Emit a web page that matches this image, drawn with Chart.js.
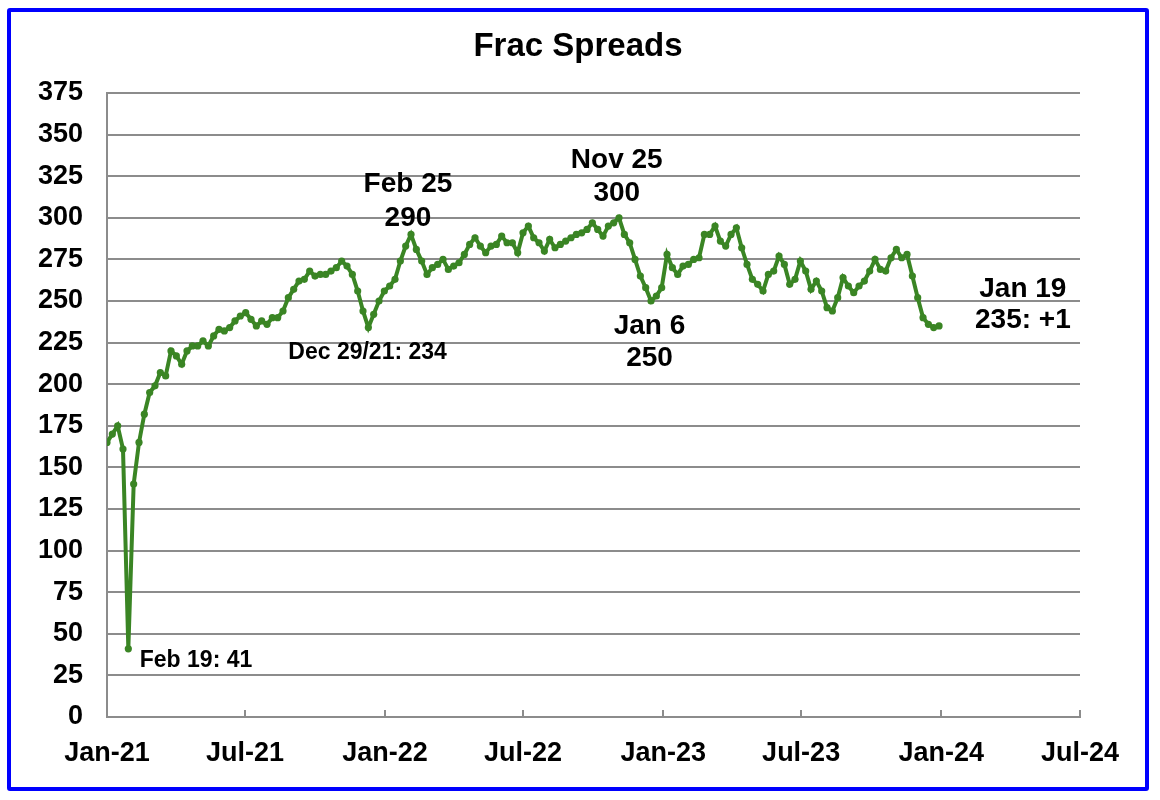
<!DOCTYPE html>
<html>
<head>
<meta charset="utf-8">
<script src="https://cdn.jsdelivr.net/npm/chart.js@4.4.1/dist/chart.umd.min.js"></script>
<style>
  html, body { margin: 0; padding: 0; background: #ffffff; }
  #wrap { position: relative; width: 1160px; height: 800px; }
  #c { position: absolute; left: 0; top: 0; }
  #frame { position: absolute; left: 7px; top: 8px; width: 1134px; height: 775px;
           border: 4px solid #0000ff; border-radius: 3px; pointer-events: none; }
</style>
</head>
<body>
<div id="wrap">
  <canvas id="c" width="1160" height="800"></canvas>
  <div id="frame"></div>
</div>
<script>
// ---- data ----
const chartTitle = "Frac Spreads";
const firstWeekDay = 0;      // day offset (from Jan 1, 2021 on the axis) of first weekly report
const daysPerWeek = 7;
const fracSpreads = [
  165,170,175,161,41,140,165,182,195,199,
  207,205,220,217,212,220,223,223,226,223,
  229,233,232,234,238,241,243,239,235,238,
  236,240,240,244,252,257,262,263,268,265,
  266,266,268,270,274,271,266,256,244,234,
  242,250,256,259,263,274,283,290,281,274,
  266,270,272,275,269,271,273,278,284,288,
  283,279,283,284,289,285,285,279,291,295,
  288,285,280,287,282,284,286,288,290,291,
  293,297,293,289,295,297,300,290,285,275,
  265,258,250,253,258,278,270,266,271,272,
  275,276,290,290,295,286,283,290,294,282,
  272,263,260,256,266,268,277,272,260,263,
  274,268,257,262,256,246,244,252,264,259,
  255,259,262,268,275,269,268,276,281,276,
  278,265,252,240,236,234,235
];
const xTickDays   = [0, 181, 365, 546, 730, 911, 1095, 1277];
const xTickLabels = ["Jan-21","Jul-21","Jan-22","Jul-22","Jan-23","Jul-23","Jan-24","Jul-24"];
const yMin = 0, yMax = 375, yStep = 25;

const annotations = [
  { lines: ["Feb 19: 41"],      x: 43,   y: 34,    size: 23, align: "left" },
  { lines: ["Dec 29/21: 234"],  x: 342,  y: 218.7, size: 23, align: "center" },
  { lines: ["Feb 25", "290"],   x: 395,  y: 320.3, size: 28, align: "center", lineGap: 20.4 },
  { lines: ["Nov 25", "300"],   x: 669,  y: 334.7, size: 28, align: "center", lineGap: 20.0 },
  { lines: ["Jan 6", "250"],    x: 712,  y: 235,   size: 28, align: "center", lineGap: 19.3 },
  { lines: ["Jan 19", "235: +1"], x: 1202, y: 257.2, size: 28, align: "center", lineGap: 18.6 }
];

const points = fracSpreads.map((v, i) => ({ x: firstWeekDay + i * daysPerWeek, y: v }));

const FONT = "'Liberation Sans', Arial, Helvetica, sans-serif";
const GREEN = "#3a8524";
const GRID = "#8c8c8c";

const titlePlugin = {
  id: "titleText",
  afterDraw(chart) {
    const ctx = chart.ctx;
    ctx.save();
    ctx.fillStyle = "#000";
    ctx.font = "bold 33px " + FONT;
    ctx.textAlign = "center";
    ctx.textBaseline = "middle";
    ctx.fillText(chartTitle, 578, 47);
    ctx.restore();
  }
};

const innerTicksPlugin = {
  id: "innerTicks",
  afterDatasetsDraw(chart) {
    const ctx = chart.ctx, xs = chart.scales.x, bottom = chart.chartArea.bottom;
    ctx.save();
    ctx.strokeStyle = GRID;
    ctx.lineWidth = 2;
    xTickDays.forEach((d, i) => {
      if (i === 0) return;
      const px = Math.round(xs.getPixelForValue(d));
      ctx.beginPath();
      ctx.moveTo(px, bottom);
      ctx.lineTo(px, bottom - 7);
      ctx.stroke();
    });
    ctx.restore();
  }
};

const annotationPlugin = {
  id: "annots",
  afterDatasetsDraw(chart) {
    const ctx = chart.ctx, xs = chart.scales.x, ys = chart.scales.y;
    ctx.save();
    ctx.fillStyle = "#000";
    annotations.forEach(a => {
      ctx.font = "bold " + a.size + "px " + FONT;
      ctx.textAlign = a.align;
      ctx.textBaseline = "middle";
      const px = xs.getPixelForValue(a.x);
      a.lines.forEach((t, k) => {
        const py = ys.getPixelForValue(a.y - k * (a.lineGap || 0));
        ctx.fillText(t, px, py);
      });
    });
    ctx.restore();
  }
};

new Chart(document.getElementById("c"), {
  type: "line",
  data: {
    datasets: [{
      data: points,
      borderColor: GREEN,
      backgroundColor: GREEN,
      borderWidth: 4,
      pointRadius: 3.6,
      pointBorderWidth: 0,
      pointBackgroundColor: GREEN,
      tension: 0,
      fill: false
    }]
  },
  options: {
    responsive: false,
    animation: false,
    events: [],
    layout: { padding: { left: 0, right: 80, top: 93, bottom: 0 } },
    plugins: { legend: { display: false }, tooltip: { enabled: false }, title: { display: false } },
    scales: {
      x: {
        type: "linear",
        min: xTickDays[0],
        max: xTickDays[xTickDays.length - 1],
        afterBuildTicks(scale) { scale.ticks = xTickDays.map(v => ({ value: v })); },
        afterFit(scale) { scale.height = 83; },
        ticks: {
          autoSkip: false,
          maxRotation: 0,
          padding: 20,
          color: "#000",
          font: { family: FONT, size: 27, weight: "bold" },
          callback(v) { const i = xTickDays.indexOf(v); return i >= 0 ? xTickLabels[i] : ""; }
        },
        grid: { display: true, drawOnChartArea: false, drawTicks: false },
        border: { display: true, color: GRID, width: 2 }
      },
      y: {
        min: yMin, max: yMax,
        afterFit(scale) { scale.width = 107; },
        ticks: {
          stepSize: yStep,
          padding: 24,
          color: "#000",
          font: { family: FONT, size: 27, weight: "bold" }
        },
        grid: { color: GRID, lineWidth: 2, drawTicks: false },
        border: { display: true, color: GRID, width: 2 }
      }
    }
  },
  plugins: [titlePlugin, innerTicksPlugin, annotationPlugin]
});
</script>
</body>
</html>
